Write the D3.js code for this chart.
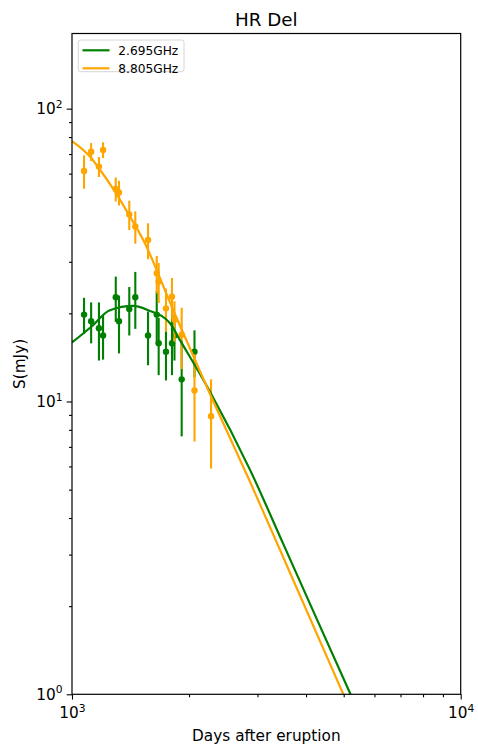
<!DOCTYPE html>
<html>
<head>
<meta charset="utf-8">
<script src="https://cdn.jsdelivr.net/npm/d3@7"></script>
<style>
  body { margin: 0; background: #fff; }
  text { font-family: "DejaVu Sans", sans-serif; }
</style>
</head>
<body>
<div id="chart"></div>
<script>
// observed fluxes (mJy) and 1-sigma errors
const daysLow = [1074, 1120, 1173, 1202, 1296, 1321, 1404, 1455, 1569, 1652, 1671, 1745, 1808, 1835, 1915, 2066];
const fluxLow = [19.8, 18.8, 17.8, 16.8, 22.7, 18.8, 20.7, 22.7, 16.8, 19.8, 15.8, 14.8, 15.8, 16.8, 11.9, 14.8];
const errLow = [2.8, 3.0, 4.0, 2.9, 4.0, 4.2, 3.9, 5.0, 3.5, 4.0, 3.5, 3.0, 3.5, 3.0, 4.3, 2.7];

const daysHigh = [1074, 1120, 1173, 1202, 1296, 1321, 1404, 1455, 1569, 1652, 1671, 1745, 1808, 1835, 1915, 2066, 2279];
const fluxHigh = [61.3, 71.3, 63.4, 72.3, 53.2, 51.7, 43.5, 39.6, 35.6, 27.4, 25.7, 20.8, 22.8, 19.0, 16.9, 10.9, 8.9];
const errHigh = [8, 5, 5, 4.5, 5, 5, 5, 5, 5, 4, 4, 3.5, 3.6, 3, 4, 3.6, 3];

// model curves
const modelDaysLow = [1000, 1121, 1252, 1438, 1572, 1787, 1896, 2265, 2871, 3500, 4200, 5207];
const modelFluxLow = [15.9, 18.0, 20.5, 21.2, 20.5, 18.5, 16.2, 10.8, 5.84, 3.25, 1.89, 1.0];
const modelDaysHigh = [1000, 1112, 1173, 1290, 1410, 1525, 1822, 2279, 2871, 3700, 4989];
const modelFluxHigh = [77.5, 68.6, 62.6, 52.1, 42.8, 35.6, 20.5, 10.4, 5.32, 2.47, 1.0];

const seriesNames = ["2.695GHz", "8.805GHz"];
const colors = ["green", "orange"];

const width = 478, height = 744;
const plotLeft = 72, plotRight = 460.7, plotTop = 33.5, plotBottom = 694.3;

const svg = d3.select("#chart").append("svg")
  .attr("width", width).attr("height", height);

const x = d3.scaleLog().domain([1000, 10000]).range([plotLeft, plotRight]);
const y = d3.scaleLog().domain([1, 180.6]).range([plotBottom, plotTop]);

svg.append("defs").append("clipPath").attr("id", "clip")
  .append("rect").attr("x", plotLeft).attr("y", plotTop)
  .attr("width", plotRight - plotLeft).attr("height", plotBottom - plotTop);

// ticks
const xMinor = d3.range(2, 10).map(d => d * 1000);
const yMinor = [...d3.range(2, 10), ...d3.range(20, 100, 10)];

const styleAxis = g => {
  g.select(".domain").remove();
  g.selectAll(".tick line").attr("stroke", "#000").attr("stroke-width", 1.1);
  g.selectAll(".tick text").remove();
};

svg.append("g").attr("transform", `translate(0,${plotBottom})`)
  .call(d3.axisBottom(x).tickValues([1000, 10000]).tickSize(5.3)).call(styleAxis);
svg.append("g").attr("transform", `translate(0,${plotBottom})`)
  .call(d3.axisBottom(x).tickValues(xMinor).tickSize(3)).call(styleAxis);
svg.append("g").attr("transform", `translate(${plotLeft},0)`)
  .call(d3.axisLeft(y).tickValues([1, 10, 100]).tickSize(5.3)).call(styleAxis);
svg.append("g").attr("transform", `translate(${plotLeft},0)`)
  .call(d3.axisLeft(y).tickValues(yMinor).tickSize(3)).call(styleAxis);

// tick labels with superscripts
const powLabel = (sel, exp) => {
  sel.append("tspan").text("10");
  sel.append("tspan").attr("dy", -6.5).attr("font-size", "10.7px").text(exp);
};
[[1000, 3], [10000, 4]].forEach(([v, e]) => {
  svg.append("text").attr("x", x(v) + 0.5).attr("y", plotBottom + 24)
    .attr("text-anchor", "middle").attr("font-size", "15.3px")
    .call(powLabel, e);
});
[[1, 0], [10, 1], [100, 2]].forEach(([v, e]) => {
  svg.append("text").attr("x", 62.5).attr("y", y(v) + 5.6)
    .attr("text-anchor", "end").attr("font-size", "15.3px")
    .call(powLabel, e);
});

// error bars + points
const drawErr = (days, flux, err, color) => {
  const g = svg.append("g");
  g.selectAll("line").data(days).enter().append("line")
    .attr("x1", d => x(d)).attr("x2", d => x(d))
    .attr("y1", (d, i) => y(flux[i] - err[i]))
    .attr("y2", (d, i) => y(flux[i] + err[i]))
    .attr("stroke", color).attr("stroke-width", 2.1);
  g.selectAll("circle").data(days).enter().append("circle")
    .attr("cx", d => x(d)).attr("cy", (d, i) => y(flux[i]))
    .attr("r", 3.2).attr("fill", color);
};
drawErr(daysLow, fluxLow, errLow, colors[0]);
drawErr(daysHigh, fluxHigh, errHigh, colors[1]);

// model curves
const line = d3.line().x(d => x(d[0])).y(d => y(d[1])).curve(d3.curveMonotoneX);
const curves = svg.append("g").attr("clip-path", "url(#clip)");
curves.append("path")
  .attr("d", line(modelDaysLow.map((d, i) => [d, modelFluxLow[i]])))
  .attr("fill", "none").attr("stroke", colors[0]).attr("stroke-width", 2.2);
curves.append("path")
  .attr("d", line(modelDaysHigh.map((d, i) => [d, modelFluxHigh[i]])))
  .attr("fill", "none").attr("stroke", colors[1]).attr("stroke-width", 2.2);

// frame
svg.append("rect").attr("x", plotLeft).attr("y", plotTop)
  .attr("width", plotRight - plotLeft).attr("height", plotBottom - plotTop)
  .attr("fill", "none").attr("stroke", "#000").attr("stroke-width", 1.2);

// legend
const legend = svg.append("g");
legend.append("rect").attr("x", 78.3).attr("y", 40).attr("width", 105.7).attr("height", 31.7)
  .attr("rx", 2.5).attr("fill", "#fff").attr("fill-opacity", 0.8)
  .attr("stroke", "#d6d6d6").attr("stroke-width", 1);
seriesNames.forEach((name, i) => {
  const ly = 50.3 + i * 18;
  legend.append("line").attr("x1", 82.5).attr("x2", 109.5).attr("y1", ly).attr("y2", ly)
    .attr("stroke", colors[i]).attr("stroke-width", 2.2);
  legend.append("text").attr("x", 118.3).attr("y", ly + 4.5)
    .attr("font-size", "12.2px").text(name);
});

// titles
svg.append("text").attr("x", (plotLeft + plotRight) / 2).attr("y", 26)
  .attr("text-anchor", "middle").attr("font-size", "18.3px").text("HR Del");
svg.append("text").attr("x", (plotLeft + plotRight) / 2).attr("y", 740.5)
  .attr("text-anchor", "middle").attr("font-size", "15.3px").text("Days after eruption");
svg.append("text").attr("transform", `translate(25,${(plotTop + plotBottom) / 2}) rotate(-90)`)
  .attr("text-anchor", "middle").attr("font-size", "15.3px").text("S(mJy)");
</script>
</body>
</html>
